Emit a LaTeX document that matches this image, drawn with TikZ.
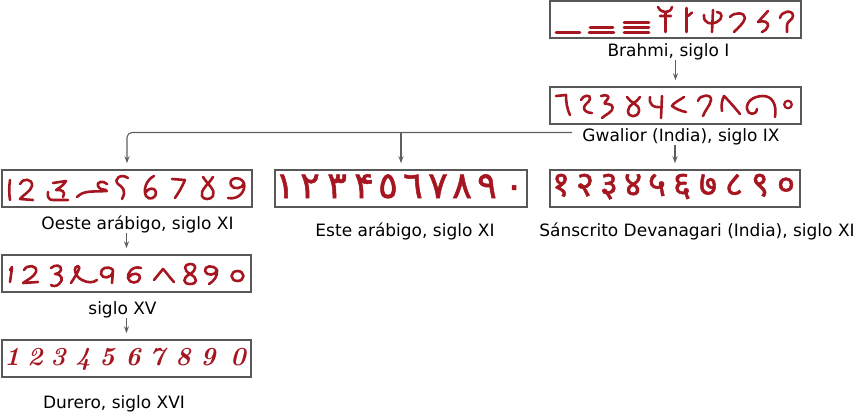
\documentclass[tikz,border=0pt]{standalone}
\usepackage{fontspec}
\newfontfamily\labfont{DejaVu Sans}
\newfontfamily\arfont[FakeBold=1.4]{DejaVu Sans}
\newfontfamily\devfont[Script=Devanagari,FakeBold=1.4]{Noto Sans}
\usetikzlibrary{arrows.meta}
\definecolor{numred}{RGB}{165,22,32}
\definecolor{boxgray}{RGB}{88,88,88}
\definecolor{linegray}{RGB}{95,95,95}
\tikzset{
  numbox/.style={draw=boxgray, line width=1.6pt, minimum width=#1, minimum height=37pt, inner sep=0pt},
  lab/.style={font=\labfont\fontsize{17}{20}\selectfont, inner sep=0pt, anchor=base},
  conn/.style={draw=linegray, line width=1.1pt},
  arr/.style={conn, -{Stealth[length=7pt,width=5pt]}, shorten >=6pt},
  gl/.style={draw=numred, line width=2.6pt, line cap=round, line join=round},
  arnum/.style={font=\arfont\fontsize{37}{40}\selectfont, text=numred, inner sep=0pt, anchor=base},
  devnum/.style={font=\devfont\fontsize{35}{38}\selectfont, text=numred, inner sep=0pt, anchor=base},
  durnum/.style={font=\bfseries\itshape\fontsize{26}{28}\selectfont, text=numred, inner sep=0pt, anchor=base},
}
\begin{document}
\begin{tikzpicture}[x=1pt,y=-1pt]
\useasboundingbox (0,0) rectangle (854,412);

% boxes
\node[numbox=251pt] (brahmi) at (675.5,19.5) {};
\node[numbox=251pt] (gwalior) at (675.5,105.5) {};
\node[numbox=250pt] (oeste) at (127,188.5) {};
\node[numbox=252pt] (este) at (401,188.5) {};
\node[numbox=250pt] (sans) at (675,188.5) {};
\node[numbox=249pt] (xv) at (126.5,273.5) {};
\node[numbox=249pt] (durero) at (126.5,358.5) {};

% labels
\node[lab] (lbrahmi) at (668.5,56.5) {Brahmi, siglo I};
\node[lab] (lgwalior) at (681,141) {Gwalior (India), siglo IX};
\node[lab] (loeste) at (137.5,229) {Oeste arábigo, siglo XI};
\node[lab] (leste) at (405,236.5) {Este arábigo, siglo XI};
\node[lab] (lsans) at (697,236.5) {Sánscrito Devanagari (India), siglo XI};
\node[lab] (lxv) at (122.5,314) {siglo XV};
\node[lab] (ldurero) at (114,408) {Durero, siglo XVI};

% connectors
\coordinate (hstart) at (572,132.5);
\draw[arr] (brahmi.north |- lbrahmi.south) -- (gwalior.north);
\draw[arr, rounded corners=5pt] (hstart) -| (oeste.north);
\draw[arr] (este.north |- hstart) -- (este.north);
\draw[arr] (sans.north |- lgwalior.south) -- (sans.north);
\draw[arr] (xv.north |- loeste.south) -- (xv.north);
\draw[arr] (durero.north |- lxv.south) -- (durero.north);

% Brahmi numerals
\draw[gl] (556,32.5) -- (580,32.5);
\draw[gl] (590,27.5) -- (613,27.5) (589,32.5) -- (614,32.5);
\draw[gl] (624,22.5) -- (649,22.5) (624,27.5) -- (649,27.5) (624,32.5) -- (649,32.5);
\draw[gl] (658,7) .. controls (660,11) and (663,12) .. (665.5,12) .. controls (668,12) and (671,11) .. (672,7)
          (665.5,12) -- (665.5,32) (660,16) -- (671,16);
\draw[gl] (686.5,8) -- (686.5,32) (688,16) -- (692,12.5);
\draw[gl] (713,10) -- (712,32)
          (704,15) .. controls (703,24) and (712,25) .. (717,22) .. controls (723,19) and (723,12) .. (717,12);
\draw[gl] (730,17) .. controls (734,12) and (745,12) .. (745,18) .. controls (744,23) and (738,28) .. (734,32);
\draw[gl] (768,11) -- (758,22) .. controls (763,20) and (769,22) .. (768,26) .. controls (767,29) and (765,31) .. (762,32);
\draw[gl] (780,18) .. controls (781,11) and (793,9) .. (793,16) .. controls (793,20) and (787,21) .. (787,25) -- (787,32);

% Gwalior numerals
\draw[gl] (556,96) -- (566,95) .. controls (566,102) and (567,109) .. (570,115);
\draw[gl] (581,100) .. controls (583,95) and (591,94) .. (590,99) .. controls (589,103) and (584,104) .. (584,108) .. controls (584,111) and (588,113) .. (592,113);
\draw[gl] (601,96) .. controls (606,94) and (611,96) .. (607,100) .. controls (604,103) and (603,104) .. (608,104) .. controls (614,104) and (614,110) .. (609,113) .. controls (606,115) and (604,116) .. (602,118);
\draw[gl] (627,97) .. controls (630,103) and (640,104) .. (639,111) .. controls (638,118) and (628,118) .. (628,111) .. controls (628,104) and (637,103) .. (640,97);
\draw[gl] (650,97) .. controls (649,104) and (652,108) .. (662,107) (662,96) -- (661,118);
\draw[gl] (684,97) .. controls (680,100) and (673,103) .. (672,106) .. controls (676,109) and (681,111) .. (686,112);
\draw[gl] (698,101) .. controls (700,94) and (712,94) .. (711,100) .. controls (710,106) and (705,110) .. (703,116);
\draw[gl] (722,111) .. controls (721,105) and (722,100) .. (724,96) .. controls (730,102) and (735,108) .. (740,114);
\draw[gl] (775,117) .. controls (777,104) and (772,96) .. (763,96) .. controls (753,96) and (746,102) .. (747,109) .. controls (748,115) and (756,116) .. (757,109);
\draw[gl, line width=2.2pt] (788,104.5) circle (3.8);

% Oeste arabigo numerals
\draw[gl] (10,180) .. controls (9,187) and (9,194) .. (10,200);
\draw[gl] (20,184) .. controls (22,178) and (33,178) .. (32,186) .. controls (31,191) and (23,195) .. (20,199) -- (33,200);
\draw[gl] (53,183) -- (66,181) .. controls (63,186) and (59,188) .. (56,190) .. controls (62,189) and (66,192) .. (63,197)
          (48,192) .. controls (47,197) and (49,200) .. (53,200) -- (68,200);
\draw[gl] (77,197) .. controls (84,190) and (92,192) .. (107,191)
          (107,184) .. controls (103,180) and (96,182) .. (98,186) .. controls (99,189) and (103,190) .. (106,190);
\draw[gl] (128,178) .. controls (121,173) and (113,179) .. (118,184) .. controls (122,187) and (127,190) .. (122,199);
\draw[gl] (154,176) .. controls (146,180) and (143,190) .. (146,196) .. controls (149,201) and (157,198) .. (156,192) .. controls (155,187) and (148,188) .. (146,192);
\draw[gl] (172,179) -- (185,180) .. controls (182,187) and (179,192) .. (175,198);
\draw[gl] (203,177) .. controls (208,185) and (216,190) .. (213,196) .. controls (211,200) and (203,200) .. (202,196) .. controls (200,190) and (208,185) .. (213,177);
\draw[gl] (244,183) .. controls (240,175) and (228,178) .. (231,185) .. controls (233,190) and (243,189) .. (244,183) .. controls (246,192) and (238,200) .. (228,198);

% Este arabigo numerals
\foreach \x/\d [count=\i] in {285/١,310/٢,337/٣,364/۴,388/٥,413/٦,438/٧,462/٨,487/٩,514/٠}
  \node[arnum] (e\i) at (\x,198) {\d};

% Devanagari numerals
\foreach \x/\d [count=\i] in {561/१,585/२,609/३,633/४,657/५,682/६,708/७,734/८,760/९,786/०}
  \node[devnum] (d\i) at (\x,196) {\d};

% siglo XV numerals
\draw[gl] (10,270) -- (12,267) (12,268) -- (10,282);
\draw[gl] (24,270) .. controls (27,264) and (38,265) .. (36,272) .. controls (34,277) and (27,280) .. (23,283) -- (38,282);
\draw[gl] (51,268) .. controls (55,264) and (62,265) .. (61,270) .. controls (60,273) and (56,274) .. (55,274) .. controls (62,274) and (64,280) .. (59,284) .. controls (56,287) and (52,286) .. (51,285);
\draw[gl] (71,283) .. controls (76,275) and (82,266) .. (78,266) .. controls (73,266) and (74,276) .. (82,280) .. controls (88,283) and (93,283) .. (97,280);
\draw[gl] (113,270) .. controls (108,265) and (100,268) .. (101,274) .. controls (102,279) and (112,279) .. (113,271) -- (112,283);
\draw[gl] (141,268) .. controls (132,265) and (127,274) .. (128,278) .. controls (129,284) and (139,284) .. (140,278) .. controls (141,273) and (132,272) .. (129,277);
\draw[gl] (154,280) -- (163,269) .. controls (166,272) and (170,278) .. (174,282);
\draw[gl] (190,274) .. controls (183,270) and (184,264) .. (190,264) .. controls (197,264) and (197,270) .. (190,274) .. controls (182,278) and (183,284) .. (190,284) .. controls (198,284) and (198,278) .. (190,274);
\draw[gl] (217,270) .. controls (213,264) and (204,266) .. (205,271) .. controls (206,276) and (216,276) .. (217,270) .. controls (218,276) and (214,281) .. (209,284);
\draw[gl] (237.5,276) ellipse (6 and 5);

% Durero numerals
\foreach \x/\d [count=\i] in {12/1,35/2,58/3,83/4,107/5,133/6,157/7,183/8,208/9,238/0}
  \node[durnum] (u\i) at (\x,365) {\d};
\end{tikzpicture}
\end{document}
